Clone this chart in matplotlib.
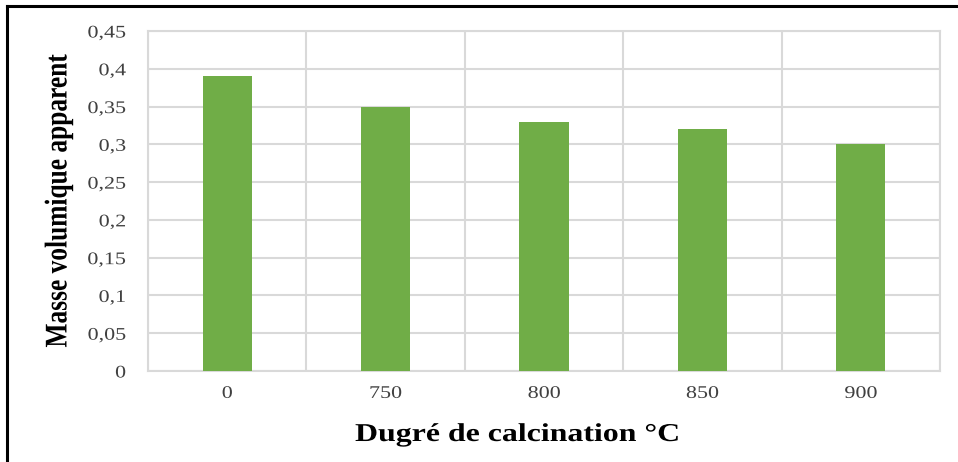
import matplotlib
matplotlib.use("Agg")
import matplotlib.pyplot as plt
from matplotlib.ticker import FixedLocator, FuncFormatter
from matplotlib.lines import Line2D
from matplotlib.patheffects import AbstractPathEffect
from matplotlib.transforms import Affine2D

categories = ["0", "750", "800", "850", "900"]
values = [0.39, 0.35, 0.33, 0.32, 0.30]
y_ticks = [0, 0.05, 0.1, 0.15, 0.2, 0.25, 0.3, 0.35, 0.4, 0.45]

plt.rcParams["font.family"] = ["Liberation Serif", "DejaVu Serif"]


class WideText(AbstractPathEffect):
    """Draw text glyphs widened horizontally on the page."""

    def __init__(self, sx=1.24, anchor="center"):
        super().__init__()
        self.sx = sx
        self.anchor = anchor

    def draw_path(self, renderer, gc, tpath, affine, rgbFace=None):
        ext = tpath.transformed(affine).get_extents()
        cx = ext.x1 if self.anchor == "right" else (ext.x0 + ext.x1) / 2
        stretch = Affine2D().translate(-cx, 0).scale(self.sx, 1).translate(cx, 0)
        renderer.draw_path(gc, tpath, affine + stretch, rgbFace)


fig = plt.figure(figsize=(9.58, 4.62), dpi=100)
ax = fig.add_axes([148 / 958, 1 - 371 / 462, (940 - 148) / 958, (371 - 31) / 462])

x = list(range(len(categories)))
ax.bar(x, values, width=0.31, color="#70ad47", zorder=3)

ax.set_xlim(-0.5, len(categories) - 0.5)
ax.set_ylim(0, 0.45)
ax.set_yticks(y_ticks)
ax.yaxis.set_major_formatter(FuncFormatter(lambda v, p: f"{v:g}".replace(".", ",")))
ax.set_xticks(x)
ax.set_xticklabels(categories)
ax.xaxis.set_minor_locator(FixedLocator([i + 0.5 for i in range(-1, len(categories))]))

grid_c = "#d9d9d9"
ax.grid(axis="y", which="major", color=grid_c, linewidth=1.5, zorder=0)
ax.grid(axis="x", which="minor", color=grid_c, linewidth=1.5, zorder=0)
for s in ax.spines.values():
    s.set_color(grid_c)
    s.set_linewidth(1.5)

ax.tick_params(axis="both", which="both", length=0, labelsize=12.8, labelcolor="#404040")
ax.tick_params(axis="y", pad=16)
ax.tick_params(axis="x", pad=10)

for lbl in ax.get_yticklabels():
    lbl.set_path_effects([WideText(anchor="right")])
for lbl in ax.get_xticklabels():
    lbl.set_path_effects([WideText()])

ax.set_ylabel("Masse volumique apparent", fontsize=18.3, fontweight="bold")
ax.yaxis.set_label_coords((70 - 148) / 792, 0.5)
ax.yaxis.label.set_path_effects([WideText()])

ax.set_xlabel("Dugré de calcination °C", fontsize=18.5, fontweight="bold")
ax.xaxis.label.set_va("baseline")
ax.xaxis.set_label_coords((518 - 148) / 792, (371 - 441) / 340)
ax.xaxis.label.set_path_effects([WideText()])

# frame lines along the top and left of the figure
fig.add_artist(Line2D([7 / 958, 7 / 958], [0, 1 - 6 / 462], transform=fig.transFigure,
                      color="black", linewidth=2.2, solid_capstyle="projecting"))
fig.add_artist(Line2D([7 / 958, 1], [1 - 6 / 462, 1 - 6 / 462], transform=fig.transFigure,
                      color="black", linewidth=2.2, solid_capstyle="projecting"))

fig.savefig("out.png", dpi=100)
